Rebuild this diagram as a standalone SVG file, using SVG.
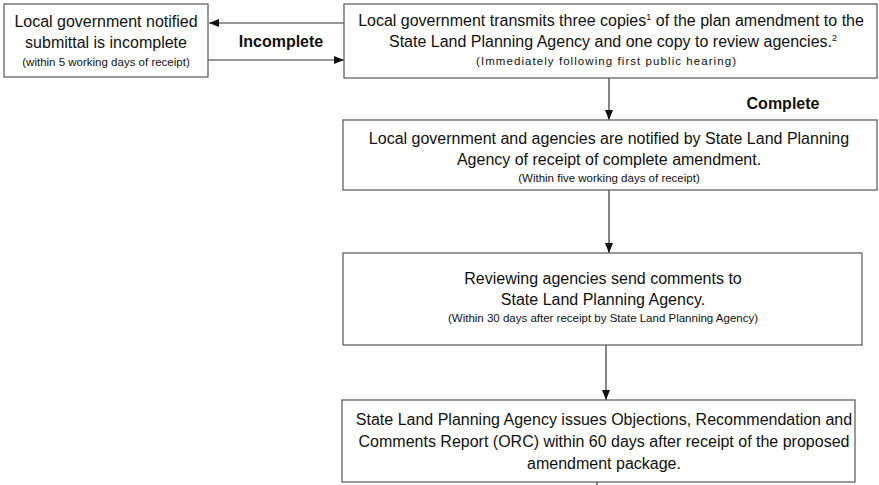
<svg xmlns="http://www.w3.org/2000/svg" width="879" height="485" viewBox="0 0 879 485">
<style>
.box{fill:#fff;stroke:#555;stroke-width:1.2}
.t{font-family:"Liberation Sans",Arial,sans-serif;font-size:16px;fill:#111;text-anchor:middle}
.s{font-family:"Liberation Sans",Arial,sans-serif;font-size:11.5px;fill:#111;text-anchor:middle}
.b{font-family:"Liberation Sans",Arial,sans-serif;font-size:16px;font-weight:bold;fill:#111;text-anchor:middle}
.c{stroke:#333;stroke-width:1.2;fill:none}
</style>
<defs>
<marker id="ah" viewBox="0 0 10 10" refX="10" refY="5" markerWidth="10" markerHeight="10" markerUnits="userSpaceOnUse" orient="auto">
<path d="M0,1 L10,5 L0,9 z" fill="#111"/>
</marker>
</defs>
<rect width="879" height="485" fill="#fff"/>
<g id="connectors">
<line class="c" x1="344" y1="23" x2="209" y2="23" marker-end="url(#ah)"/>
<line class="c" x1="208" y1="60" x2="344" y2="60" marker-end="url(#ah)"/>
<line class="c" x1="609" y1="78" x2="609" y2="120" marker-end="url(#ah)"/>
<line class="c" x1="609" y1="190" x2="609" y2="253" marker-end="url(#ah)"/>
<line class="c" x1="606" y1="345" x2="606" y2="400" marker-end="url(#ah)"/>
<line class="c" x1="597" y1="482" x2="597" y2="485"/>
<text class="b" x="281" y="47">Incomplete</text>
<text class="b" x="783" y="109">Complete</text>
</g>
<g id="n_incomplete">
<rect class="box" x="4" y="4" width="204" height="73"/>
<text class="t" x="106" y="27">Local government notified</text>
<text class="t" x="106" y="48">submittal is incomplete</text>
<text class="s" x="106" y="66">(within 5 working days of receipt)</text>
</g>
<g id="n_transmit">
<rect class="box" x="344" y="4" width="533" height="74"/>
<text class="t" x="611" y="26">Local government transmits three copies<tspan font-size="9" dy="-6">1</tspan><tspan dy="6"> of the plan amendment to the</tspan></text>
<text class="t" x="613" y="47">State Land Planning Agency and one copy to review agencies.<tspan font-size="9" dy="-6">2</tspan></text>
<text class="s" x="606" y="65" font-size="12.5" textLength="260" lengthAdjust="spacing">(Immediately following first public hearing)</text>
</g>
<g id="n_notified">
<rect class="box" x="343" y="120" width="534" height="70"/>
<text class="t" x="609" y="144">Local government and agencies are notified by State Land Planning</text>
<text class="t" x="609" y="165">Agency of receipt of complete amendment.</text>
<text class="s" x="609" y="182">(Within five working days of receipt)</text>
</g>
<g id="n_review">
<rect class="box" x="343" y="253" width="519" height="92"/>
<text class="t" x="603" y="284">Reviewing agencies send comments to</text>
<text class="t" x="603" y="305">State Land Planning Agency.</text>
<text class="s" x="603" y="322">(Within 30 days after receipt by State Land Planning Agency)</text>
</g>
<g id="n_orc">
<rect class="box" x="342" y="400" width="513" height="82"/>
<text class="t" x="604" y="425">State Land Planning Agency issues Objections, Recommendation and</text>
<text class="t" x="604" y="447">Comments Report (ORC) within 60 days after receipt of the proposed</text>
<text class="t" x="604" y="469">amendment package.</text>
</g>
</svg>
